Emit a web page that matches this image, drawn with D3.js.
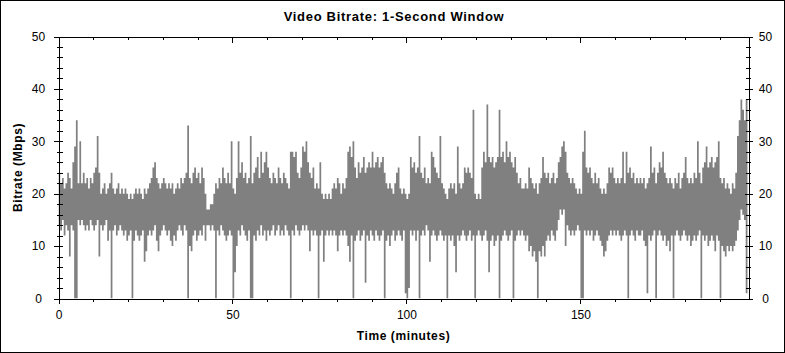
<!DOCTYPE html>
<html>
<head>
<meta charset="utf-8">
<script src="https://cdn.jsdelivr.net/npm/d3@7"></script>
<style>
  body { margin: 0; background: #fff; }
  svg { display: block; font-family: "Liberation Sans", Arial, sans-serif; }
</style>
</head>
<body>
<svg id="chart" width="785" height="353"></svg>
<script>
// bitrate envelope per half-minute window (Mbps)
const stepMinutes = 0.5;
const peakMbps = [
  24,22,23,21,22,24,23,21,26,29,  34,22,30,22,24,22,23,21,23,22,
  24,25,31,24,20,21,22,20,21,22,  24,21,20,21,22,20,21,20,21,20,
  19,20,19,20,21,20,21,20,19,21,  20,21,22,23,25,26,23,22,21,22,
  23,22,21,22,21,22,20,21,22,21,  23,22,23,24,33,23,22,24,25,23,
  24,22,25,23,20,17,17,18,18,20,  22,21,23,22,25,23,22,24,22,30,
  21,20,23,30,24,26,23,24,22,23,  31,22,24,25,27,23,28,24,26,28,
  25,23,22,24,23,22,25,23,22,24,  23,22,21,28,28,27,28,24,23,25,
  29,28,30,26,24,23,25,21,22,21,  26,20,19,20,19,20,19,21,22,21,
  23,22,20,22,21,23,28,29,27,30,  25,23,26,24,25,27,24,25,26,25,
  28,25,26,27,25,26,27,24,22,21,  22,21,20,22,24,25,21,20,21,20,
  19,20,27,25,26,24,25,31,24,23,  25,22,23,22,28,27,25,24,23,31,
  22,21,20,19,21,22,21,22,20,29,  22,21,22,25,24,25,24,23,36,20,
  19,20,19,25,28,26,37,27,26,27,  25,26,27,36,27,28,26,30,27,28,
  26,25,27,24,22,23,21,21,22,21,  25,23,22,21,22,20,22,23,27,24,
  23,24,22,23,24,22,23,26,27,29,  30,28,24,23,22,23,22,21,20,21,
  20,28,32,25,24,25,23,22,24,22,  23,21,20,21,20,22,25,24,25,23,
  22,23,22,23,28,22,28,24,25,23,  24,22,23,22,23,22,23,21,22,23,
  29,24,25,22,24,26,25,28,24,23,  22,23,22,21,23,22,24,21,23,24,
  27,23,22,23,22,24,23,30,24,22,  25,26,29,25,26,27,25,26,27,30,
  23,22,23,21,22,21,20,22,21,24,  31,34,38,36,34,38
];
const lowMbps = [
  14,13,15,12,14,13,8,14,13,0,    0,15,14,15,14,13,14,13,15,14,
  13,14,15,8,14,13,14,15,11,13,   0,13,14,12,13,14,13,12,13,11,
  12,13,0,11,13,12,11,12,13,7,    9,12,13,12,13,14,11,9,12,13,
  14,13,12,13,11,10,12,11,13,14,  13,12,14,13,0,10,9,12,13,11,
  12,13,12,14,11,14,14,13,14,13,  0,13,12,14,13,12,11,12,13,12,
  0,5,10,13,12,14,13,12,11,13,    0,0,12,11,13,12,14,12,13,11,
  13,12,13,14,12,13,14,12,13,12,  14,13,12,0,13,12,14,13,12,13,
  14,13,14,13,9,13,12,13,12,0,    12,13,7,12,13,12,13,12,13,12,
  9,12,13,12,13,12,10,7,12,0,     11,12,13,11,12,13,3,12,11,13,
  12,11,13,12,11,12,13,0,11,12,   10,12,13,11,12,13,12,11,13,1,
  0,2,13,12,13,11,13,0,12,13,     12,14,13,7,12,13,12,11,12,13,
  12,11,12,0,12,11,12,10,5,12,    11,12,13,12,11,12,13,11,12,0,
  12,13,12,11,12,13,11,5,11,12,   10,11,12,0,11,12,13,12,11,12,
  13,0,11,12,13,12,13,12,11,12,   9,10,8,9,7,0,9,8,10,8,
  11,12,11,13,12,11,13,15,17,16,  17,10,14,13,12,13,12,13,14,13,
  0,0,13,12,13,12,13,11,12,13,    12,11,10,8,9,11,12,13,12,13,
  12,13,12,11,12,13,12,0,12,13,   12,11,13,12,12,13,11,10,1,12,
  11,12,13,0,12,13,12,11,12,10,   11,9,12,0,12,13,12,11,12,13,
  12,11,12,10,11,12,11,12,13,0,   12,11,12,10,11,12,11,9,12,11,
  0,10,9,8,10,9,10,9,10,11,       13,15,17,16,15,1
];

const xMajor = [0, 50, 100, 150];
const xMinor = [10, 20, 30, 40, 60, 70, 80, 90, 110, 120, 130, 140, 160, 170, 180, 190];
const yMajor = [0, 10, 20, 30, 40, 50];
const yMinor = [2, 4, 6, 8, 12, 14, 16, 18, 22, 24, 26, 28, 32, 34, 36, 38, 42, 44, 46, 48];
const maxMinutes = 198.3;

const svg = d3.select('#chart');
const W = 785, H = 353;
const plotL = 58.5, plotR = 748.5, plotT = 36.5, plotB = 298.5;

const x = d3.scaleLinear().domain([0, maxMinutes]).range([plotL, plotR]);
const y = d3.scaleLinear().domain([0, 50]).range([plotB, plotT]);

// outer frame
svg.append('rect')
  .attr('x', 0.5).attr('y', 0.5)
  .attr('width', W - 1).attr('height', H - 1)
  .attr('fill', '#fff').attr('stroke', '#000');

svg.append('clipPath').attr('id', 'plot-clip')
  .append('rect')
  .attr('x', plotL).attr('y', plotT)
  .attr('width', plotR - plotL).attr('height', plotB - plotT);

// bitrate envelope as one stepped band (min..max per window)
const windows = peakMbps.map((p, i) => ({ t: i * stepMinutes, hi: p, lo: lowMbps[i] }));
windows.push({ t: windows.length * stepMinutes, hi: peakMbps[peakMbps.length - 1], lo: lowMbps[lowMbps.length - 1] });

const band = d3.area()
  .curve(d3.curveStepAfter)
  .x(d => x(d.t))
  .y0(d => y(d.lo))
  .y1(d => y(d.hi));

svg.append('path')
  .attr('clip-path', 'url(#plot-clip)')
  .attr('d', band(windows))
  .attr('fill', '#808080')
  .attr('stroke', 'none');

// axes
function styleAxis(g) {
  g.attr('font-family', null).attr('font-size', null);
  g.selectAll('path, line').attr('stroke', '#000').attr('shape-rendering', 'crispEdges');
  g.selectAll('text').attr('fill', '#000').style('font-size', '12px');
}

// bottom
svg.append('g').attr('transform', `translate(0,${plotB})`)
  .call(d3.axisBottom(x).tickValues(xMinor).tickSize(3).tickFormat(''))
  .call(g => g.select('.domain').remove())
  .call(styleAxis);
svg.append('g').attr('transform', `translate(0,${plotB})`)
  .call(d3.axisBottom(x).tickValues(xMajor).tickSizeInner(5).tickSizeOuter(0).tickPadding(7).tickFormat(d3.format('d')))
  .call(styleAxis);

// top
svg.append('g').attr('transform', `translate(0,${plotT})`)
  .call(d3.axisBottom(x).tickValues(xMinor).tickSize(3).tickFormat(''))
  .call(g => g.select('.domain').remove())
  .call(styleAxis);
svg.append('g').attr('transform', `translate(0,${plotT})`)
  .call(d3.axisBottom(x).tickValues(xMajor).tickSizeInner(6).tickSizeOuter(0).tickFormat(''))
  .call(styleAxis);

// left
svg.append('g').attr('transform', `translate(${plotL},0)`)
  .call(d3.axisLeft(y).tickValues(yMinor).tickSize(2).tickFormat(''))
  .call(g => g.select('.domain').remove())
  .call(g => g.selectAll('.tick line').attr('x1', 4))
  .call(styleAxis);
svg.append('g').attr('transform', `translate(${plotL},0)`)
  .call(d3.axisLeft(y).tickValues(yMajor).tickSizeInner(5).tickSizeOuter(0).tickFormat(d3.format('d')))
  .call(g => g.selectAll('.tick line').attr('x1', 4))
  .call(g => g.selectAll('.tick text').attr('text-anchor', 'middle').attr('x', -20))
  .call(styleAxis);

// right
svg.append('g').attr('transform', `translate(${plotR},0)`)
  .call(d3.axisRight(y).tickValues(yMinor).tickSize(2).tickFormat(''))
  .call(g => g.select('.domain').remove())
  .call(g => g.selectAll('.tick line').attr('x1', -3))
  .call(styleAxis);
svg.append('g').attr('transform', `translate(${plotR},0)`)
  .call(d3.axisRight(y).tickValues(yMajor).tickSizeInner(4).tickSizeOuter(0).tickFormat(d3.format('d')))
  .call(g => g.selectAll('.tick line').attr('x1', -4))
  .call(g => g.selectAll('.tick text').attr('text-anchor', 'middle').attr('x', 17))
  .call(styleAxis);

// titles
svg.append('text')
  .attr('x', 394).attr('y', 21)
  .attr('text-anchor', 'middle')
  .style('font-size', '13px').style('font-weight', 'bold').style('letter-spacing', '0.7px')
  .text('Video Bitrate: 1-Second Window');

svg.append('text')
  .attr('x', (plotL + plotR) / 2).attr('y', 340)
  .attr('text-anchor', 'middle')
  .style('font-size', '12px').style('font-weight', 'bold').style('letter-spacing', '0.6px')
  .text('Time (minutes)');

svg.append('text')
  .attr('transform', `translate(22,${(plotT + plotB) / 2}) rotate(-90)`)
  .attr('text-anchor', 'middle')
  .style('font-size', '12px').style('font-weight', 'bold').style('letter-spacing', '0.6px')
  .text('Bitrate (Mbps)');
</script>
</body>
</html>
